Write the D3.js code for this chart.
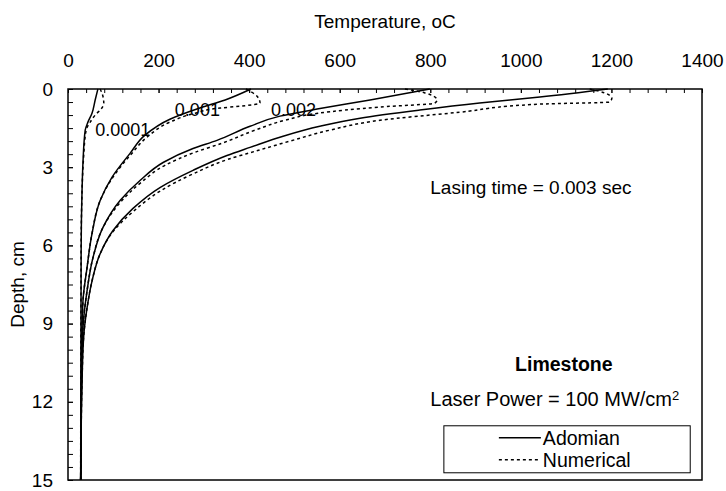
<!DOCTYPE html>
<html>
<head>
<meta charset="utf-8">
<script src="https://cdn.jsdelivr.net/npm/d3@7"></script>
<style>
  body { margin: 0; background: #fff; }
  text { font-family: "Liberation Sans", Arial, sans-serif; fill: #000; }
  .axis path { display: none; }
  .axis line { stroke: #000; stroke-width: 1; }
  .axis text { font-size: 19px; }
  .adomian { fill: none; stroke: #000; stroke-width: 1.5; }
  .numerical { fill: none; stroke: #000; stroke-width: 1.5; stroke-dasharray: 3,3; }
</style>
</head>
<body>
<div id="chart"></div>
<script>
// lasing times (sec) labelled on the curves
var times = ["0.0001", "0.001", "0.002", "0.003"];

// Adomian solution: depth (cm) and temperature (oC)
var adoDepth1 = [0, 0.42, 0.93, 1.27, 1.58, 2.85, 3.9, 6.2, 15];
var adoTemp1  = [66, 60, 53, 44, 38, 33, 31, 29, 28];
var adoDepth2 = [0, 0.42, 0.73, 1.16, 1.77, 2.47, 3.39, 4.28, 5.55, 6.86, 8.14, 10.07, 12.8, 15];
var adoTemp2  = [404, 347, 291, 225, 170, 137, 97, 71, 53, 42, 33, 30, 29, 28];
var adoDepth3 = [0, 0.42, 0.77, 1.04, 1.43, 1.97, 2.28, 2.82, 3.51, 4.28, 5.32, 6.48, 7.75, 9.18, 11.2, 13.2, 15];
var adoTemp3  = [799, 667, 550, 468, 402, 329, 276, 210, 159, 115, 77, 55, 42, 33, 30, 29, 28];
var adoDepth4 = [0, 0.31, 0.54, 0.81, 1.12, 1.43, 1.81, 2.24, 2.55, 3.12, 3.78, 4.59, 5.44, 6.32, 7.37, 8.41, 9.41, 11.2, 13.2, 15];
var adoTemp4  = [1192, 1042, 909, 777, 645, 556, 475, 402, 351, 276, 203, 143, 99, 71, 53, 42, 35, 31, 29, 28];

// Numerical solution
var numDepth1 = [0, 0.27, 0.54, 0.77, 0.96, 1.27, 1.58, 2.74, 3.9, 6.2, 15];
var numTemp1  = [71, 77, 79, 73, 62, 49, 40, 34, 31, 29, 28];
var numDepth2 = [0, 0.27, 0.54, 0.66, 0.73, 0.93, 1.27, 1.81, 2.47, 3.39, 4.28, 5.55, 6.86, 8.14, 10.07, 12.8, 15];
var numTemp2  = [393, 417, 424, 380, 336, 280, 225, 177, 141, 99, 71, 53, 42, 33, 30, 29, 28];
var numDepth3 = [0, 0.15, 0.42, 0.54, 0.69, 0.93, 1.2, 1.58, 2.08, 2.43, 2.93, 3.59, 4.32, 5.32, 6.48, 7.75, 9.18, 11.2, 13.2, 15];
var numTemp3  = [744, 788, 815, 810, 689, 552, 479, 413, 340, 280, 214, 161, 117, 77, 55, 42, 33, 30, 29, 28];
var numDepth4 = [0, 0.15, 0.35, 0.5, 0.58, 0.89, 1.2, 1.58, 2.0, 2.39, 2.7, 3.24, 3.9, 4.67, 5.48, 6.32, 7.37, 8.41, 9.41, 11.2, 13.2, 15];
var numTemp4  = [1152, 1185, 1201, 1196, 1042, 865, 689, 578, 490, 413, 353, 278, 205, 146, 99, 71, 53, 42, 35, 31, 29, 28];

var tempTicks = [0, 200, 400, 600, 800, 1000, 1200, 1400];
var depthTicks = [0, 3, 6, 9, 12, 15];

function init() {
    var W = 726, H = 491;
    var margin = {top: 89, right: 24, bottom: 11, left: 68},
        w = W - margin.left - margin.right,
        h = H - margin.top - margin.bottom;

    var x = d3.scaleLinear().domain([0, 1400]).range([0, w]),
        y = d3.scaleLinear().domain([0, 15]).range([0, h]);

    var svg = d3.select("#chart").append("svg")
        .attr("width", W)
        .attr("height", H);

    var g = svg.append("g")
        .attr("transform", "translate(" + margin.left + "," + margin.top + ")");

    // minor ticks
    g.append("g")
        .attr("class", "axis")
        .call(d3.axisTop(x).tickValues(d3.range(0, 1401, 40)).tickSize(-4).tickFormat(""));
    g.append("g")
        .attr("class", "axis")
        .call(d3.axisLeft(y).tickValues(d3.range(0, 15.01, 0.5)).tickSize(-5).tickFormat(""));

    // labelled axes
    g.append("g")
        .attr("class", "axis")
        .call(d3.axisTop(x).tickValues(tempTicks).tickSize(-4).tickPadding(22).tickFormat(d3.format("d")));
    g.append("g")
        .attr("class", "axis")
        .call(d3.axisLeft(y).tickValues(depthTicks).tickSize(-5).tickPadding(15));

    // plot frame
    g.append("rect")
        .attr("width", w)
        .attr("height", h)
        .attr("fill", "none")
        .attr("stroke", "#000")
        .attr("stroke-width", 1.5);

    svg.append("text")
        .attr("x", margin.left + w / 2)
        .attr("y", 28)
        .attr("text-anchor", "middle")
        .style("font-size", "19px")
        .text("Temperature, oC");

    svg.append("text")
        .attr("transform", "translate(24," + (margin.top + h / 2) + ") rotate(-90)")
        .attr("text-anchor", "middle")
        .style("font-size", "19px")
        .text("Depth, cm");

    var line = d3.line()
        .x(function(d) { return x(d[1]); })
        .y(function(d) { return y(d[0]); })
        .curve(d3.curveMonotoneY);

    var ado = [[adoDepth1, adoTemp1], [adoDepth2, adoTemp2], [adoDepth3, adoTemp3], [adoDepth4, adoTemp4]];
    var num = [[numDepth1, numTemp1], [numDepth2, numTemp2], [numDepth3, numTemp3], [numDepth4, numTemp4]];

    function pairs(s) { return s[0].map(function(d, i) { return [d, s[1][i]]; }); }

    g.selectAll(".numerical")
        .data(num.map(pairs))
        .enter().append("path")
        .attr("class", "numerical")
        .attr("d", line);

    g.selectAll(".adomian")
        .data(ado.map(pairs))
        .enter().append("path")
        .attr("class", "adomian")
        .attr("d", line);

    // curve labels (time, sec)
    var labelPos = [[1.55, 60], [0.8, 236], [0.78, 448]];
    g.selectAll(".tlabel")
        .data(labelPos)
        .enter().append("text")
        .attr("class", "tlabel")
        .attr("x", function(d) { return x(d[1]); })
        .attr("y", function(d) { return y(d[0]); })
        .attr("dy", "0.35em")
        .style("font-size", "18px")
        .text(function(d, i) { return times[i]; });

    g.append("text")
        .attr("x", x(800))
        .attr("y", y(3.78))
        .attr("dy", "0.35em")
        .style("font-size", "19px")
        .text("Lasing time = " + times[3] + " sec");

    g.append("text")
        .attr("x", x(1095))
        .attr("y", y(10.55))
        .attr("dy", "0.35em")
        .attr("text-anchor", "middle")
        .style("font-size", "19.5px")
        .style("font-weight", "bold")
        .text("Limestone");

    var lp = g.append("text")
        .attr("x", x(800))
        .attr("y", y(11.9))
        .attr("dy", "0.35em")
        .style("font-size", "20px");
    lp.append("tspan").text("Laser Power = 100 MW/cm");
    lp.append("tspan").attr("dy", "-0.45em").style("font-size", "13px").text("2");

    // legend
    var lg = g.append("g")
        .attr("transform", "translate(" + x(830) + "," + y(12.92) + ")");
    lg.append("rect")
        .attr("width", x(1374) - x(830))
        .attr("height", 47)
        .attr("fill", "#fff")
        .attr("stroke", "#000")
        .attr("stroke-width", 1);
    var items = [["Adomian", "adomian"], ["Numerical", "numerical"]];
    items.forEach(function(it, i) {
        var yy = 12 + i * 22;
        lg.append("line")
            .attr("class", it[1])
            .attr("x1", 55).attr("x2", 97)
            .attr("y1", yy).attr("y2", yy);
        lg.append("text")
            .attr("x", 99)
            .attr("y", yy)
            .attr("dy", "0.35em")
            .style("font-size", "19.5px")
            .text(it[0]);
    });
}
init();
</script>
</body>
</html>
